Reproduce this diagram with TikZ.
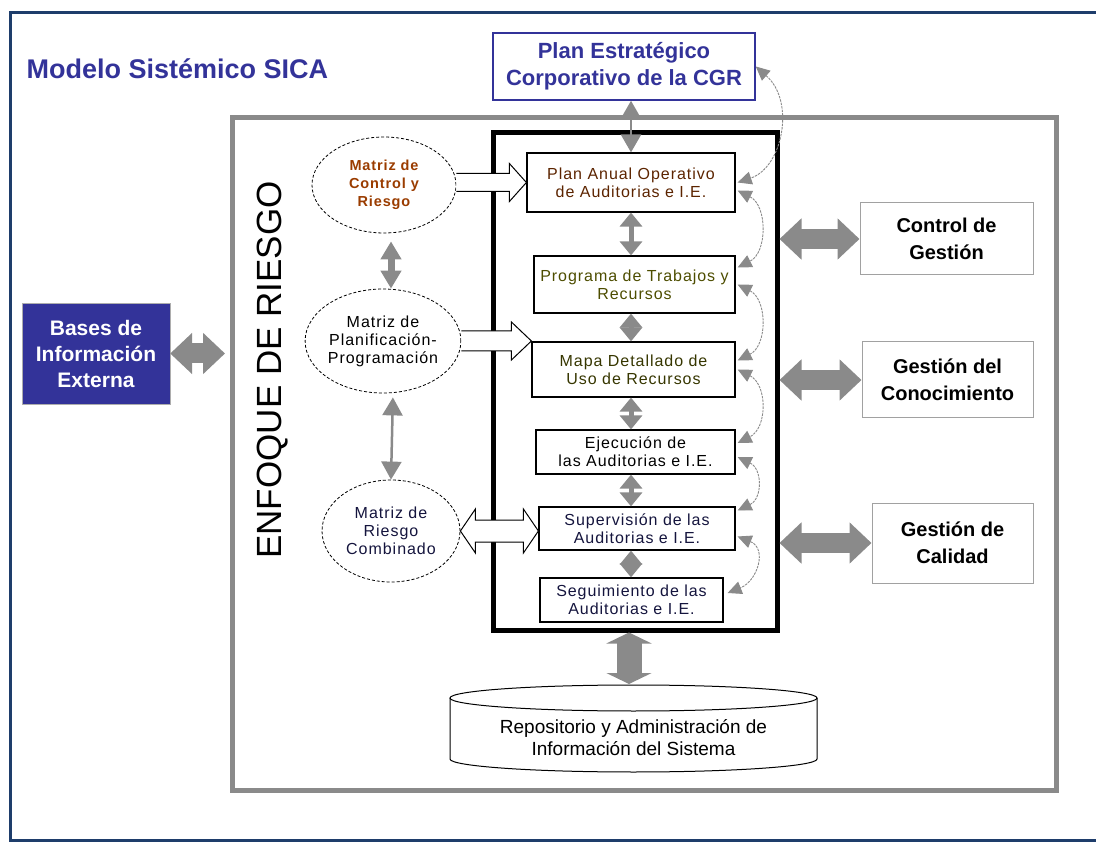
\documentclass[tikz,border=0pt]{standalone}
\usepackage{fontspec}
\setmainfont{Liberation Sans}
\newfontfamily\espaciada[LetterSpace=6]{Liberation Sans}
\usetikzlibrary{arrows.meta,shapes.geometric,calc}

\definecolor{marco}{HTML}{1E3D6B}
\definecolor{azul}{HTML}{333399}
\definecolor{gris}{HTML}{8A8A8A}
\definecolor{ocre}{HTML}{9A3C00}
\definecolor{oliva}{HTML}{4D4D00}

\begin{document}
\begin{tikzpicture}[x=1pt,y=-1pt,
    caja/.style={draw, line width=1.2pt, inner sep=0pt, align=center, font=\espaciada\fontsize{16}{18}\selectfont},
    matriz/.style={ellipse, draw, densely dashed, line width=0.8pt, inner sep=0pt, align=center, font=\espaciada\fontsize{16}{18}\selectfont},
    externo/.style={draw=gris!80, line width=1pt, inner sep=0pt, align=center, font=\bfseries\fontsize{20}{27}\selectfont},
    gruesa/.style={draw=gris, line width=20pt, {Triangle[width=40pt,length=22pt]}-{Triangle[width=40pt,length=22pt]}},
    enlace/.style={draw=gris, line width=5pt, {Triangle[width=22pt,length=14pt]}-{Triangle[width=22pt,length=14pt]}},
    fina/.style={draw=gris, line width=2.5pt, {Triangle[width=20pt,length=18pt]}-{Triangle[width=20pt,length=18pt]}},
    retro/.style={draw=gris, line width=0.9pt, dash pattern=on 2.5pt off 1pt, {Triangle[width=13pt,length=14pt]}-{Triangle[width=13pt,length=14pt]}},
    hueca/.style={draw, fill=white, line width=1pt}]

    \useasboundingbox (0,0) rectangle (1096,842);

    % marcos
    \draw[marco, line width=3pt] (10,13) rectangle (1130,840);
    \draw[gris, line width=5pt] (232,118) rectangle (1056,790);

    \node[azul, font=\bfseries\fontsize{27}{30}\selectfont, anchor=west] (titulo) at (23,69) {Modelo Sistémico SICA};

    % cajas externas
    \node[draw=azul, line width=1.5pt, text=azul, align=center, inner sep=0pt,
          minimum width=262pt, minimum height=67pt, font=\bfseries\fontsize{22}{27}\selectfont]
          (plan) at (624,66.5) {Plan Estratégico\\Corporativo de la CGR};
    \node[fill=azul, draw=gris!70, text=white, align=center, inner sep=0pt,
          minimum width=148pt, minimum height=101pt, font=\bfseries\fontsize{21}{26}\selectfont]
          (bases) at (96,353.5) {Bases de\\Información\\Externa};
    \node[externo, minimum width=173pt, minimum height=72pt] (ctrl) at (946.5,239) {Control de\\Gestión};
    \node[externo, minimum width=171pt, minimum height=76pt] (conoc) at (947.5,380) {Gestión del\\Conocimiento};
    \node[externo, minimum width=161pt, minimum height=80pt] (calid) at (952.5,543) {Gestión de\\Calidad};

    \node[rotate=90, font=\fontsize{35}{38}\selectfont] (enfoque) at (273,370) {ENFOQUE DE RIESGO};

    % proceso
    \node[draw, line width=5pt, minimum width=284pt, minimum height=497pt] (proc) at (635,381.5) {};
    \node[caja, text=ocre!60!black, minimum width=208pt, minimum height=59pt] (pa) at (631,182.5) {Plan Anual Operativo\\de Auditorias e I.E.};
    \node[caja, text=oliva, minimum width=201pt, minimum height=57pt] (pt) at (634.5,284.5) {Programa de Trabajos y\\Recursos};
    \node[caja, text=oliva!70!black, minimum width=203pt, minimum height=55pt] (mapa) at (633.5,369.5) {Mapa Detallado de\\Uso de Recursos};
    \node[caja, minimum width=199pt, minimum height=44pt] (ejec) at (635.5,452) {Ejecución de\\las Auditorias e I.E.};
    \node[caja, text=azul!40!black, minimum width=196pt, minimum height=43pt] (sup) at (637,528.5) {Supervisión de las\\Auditorias e I.E.};
    \node[caja, text=azul!40!black, minimum width=183pt, minimum height=44pt] (seg) at (631.5,600) {Seguimiento de las\\Auditorias e I.E.};

    % matrices
    \node[matriz, text=ocre, font=\espaciada\bfseries\fontsize{14.5}{18}\selectfont, minimum width=144pt, minimum height=96pt] (m1) at (384,185) {Matriz de\\Control y\\Riesgo};
    \node[matriz, minimum width=150pt, minimum height=104pt] (m2) at (383,341) {Matriz de\\Planificación-\\Programación};
    \node[matriz, text=azul!40!black, minimum width=138pt, minimum height=102pt] (m3) at (391,531) {Matriz de\\Riesgo\\Combinado};

    % repositorio
    \draw[line width=1pt, fill=white] (450,698) -- (450,759) arc[start angle=180, end angle=0, x radius=183.5, y radius=13] -- (817,698);
    \draw[line width=1pt] (633.5,698) ellipse [x radius=183.5, y radius=13];
    \node[align=center, font=\fontsize{19}{22}\selectfont] (repo) at (633.5,738) {Repositorio y Administración de\\Información del Sistema};
    \coordinate (repotop) at (629,684);
    \coordinate (bordeizq) at (225,357);

    % flechas gruesas
    \draw[gruesa] (bases.east) -- (bordeizq |- bases.east);
    \draw[gruesa] (proc.east |- ctrl.west) -- (ctrl.west);
    \draw[gruesa] (proc.east |- conoc.west) -- (conoc.west);
    \draw[gruesa] (proc.east |- calid.west) -- (calid.west);
    \draw[draw=gris, line width=25pt, {Triangle[width=45pt,length=11pt]}-{Triangle[width=45pt,length=11pt]}] (repotop |- proc.south) -- (repotop);

    % flechas entre etapas
    \foreach \a/\b in {pa/pt, pt/mapa, mapa/ejec, ejec/sup, sup/seg}
        \draw[enlace] (\a.south -| pa.south) -- (\b.north -| pa.south);

    \draw[fina] (pa.north |- plan.south) -- (pa.north);
    \draw[fina, line width=7pt, shorten <=8pt] ([xshift=7pt]m1.south) -- ([xshift=8pt]m2.north);
    \draw[fina, shorten <=4pt] ([xshift=10pt]m2.south) -- (m3.north);

    % flechas huecas
    \draw[hueca] let \p1=(m1.east), \p2=(pa.west) in
        (\x1,\y2+9pt) -- (\x2-17pt,\y2+9pt) -- (\x2-17pt,\y2+19pt) -- (\x2,\y2)
        -- (\x2-17pt,\y2-19pt) -- (\x2-17pt,\y2-9pt) -- (\x1,\y2-9pt);
    \draw[hueca] let \p1=(m2.east), \p2=(mapa.west) in
        (\x1,\y1+10pt) -- (\x2-20pt,\y1+10pt) -- (\x2-20pt,\y1+19pt) -- (\x2,\y1)
        -- (\x2-20pt,\y1-19pt) -- (\x2-20pt,\y1-10pt) -- (\x1,\y1-10pt);
    \draw[hueca] let \p1=(m3.east), \p2=(sup.west) in
        (\x1,\y1) -- (\x1+15pt,\y1+22pt) -- (\x1+15pt,\y1+11pt) -- (\x2-15pt,\y1+11pt)
        -- (\x2-15pt,\y1+22pt) -- (\x2,\y1) -- (\x2-15pt,\y1-22pt) -- (\x2-15pt,\y1-11pt)
        -- (\x1+15pt,\y1-11pt) -- (\x1+15pt,\y1-22pt) -- cycle;

    % retroalimentacion
    \draw[retro] (plan.east) .. controls +(40,35) and +(45,-15) .. ($(pa.east)+(2,0)$);
    \draw[retro] ($(pa.east)+(2,8)$) .. controls +(30,15) and +(30,-15) .. ($(pt.east)+(2,-17)$);
    \draw[retro] ($(pt.east)+(2,0)$) .. controls +(30,15) and +(30,-15) .. ($(mapa.east)+(2,-9)$);
    \draw[retro] ($(mapa.east)+(2,0)$) .. controls +(30,15) and +(30,-15) .. ($(ejec.east)+(2,-9)$);
    \draw[retro] ($(ejec.east)+(2,5)$) .. controls +(25,12) and +(25,-12) .. ($(sup.east)+(2,-18)$);
    \draw[retro] ($(sup.east)+(2,8)$) .. controls +(30,12) and +(30,-12) .. ($(seg.east)+(4,-7)$);
\end{tikzpicture}
\end{document}
